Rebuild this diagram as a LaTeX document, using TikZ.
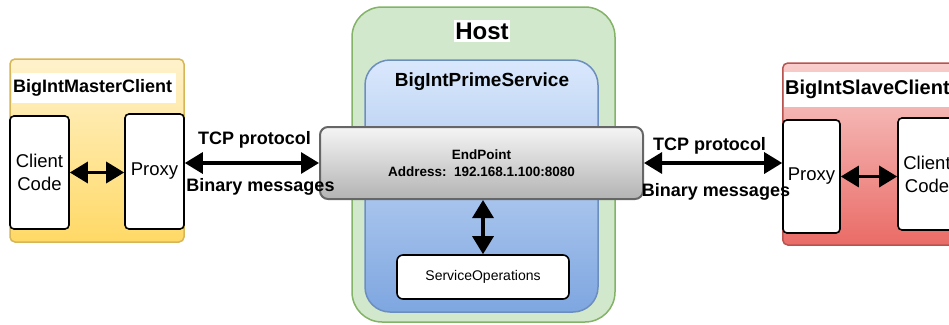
\documentclass[tikz,border=0pt]{standalone}
\usepackage{fontspec}
\setmainfont{Liberation Sans}
\usetikzlibrary{arrows.meta}
\definecolor{yellowtop}{HTML}{FFF2CC}
\definecolor{yellowbot}{HTML}{FFD966}
\definecolor{yellowline}{HTML}{D6B656}
\definecolor{greenfill}{HTML}{D2E8CC}
\definecolor{greenline}{HTML}{82B366}
\definecolor{bluetop}{HTML}{DAE8FC}
\definecolor{bluebot}{HTML}{7EA6E0}
\definecolor{blueline}{HTML}{6C8EBF}
\definecolor{redtop}{HTML}{F8CECC}
\definecolor{redbot}{HTML}{EA6B66}
\definecolor{redline}{HTML}{B85450}
\definecolor{graytop}{HTML}{F5F5F5}
\definecolor{graybot}{HTML}{B3B3B3}
\definecolor{grayline}{HTML}{666666}
\tikzset{container/.style={rounded corners=5pt,line width=1.5pt,inner sep=0pt}}
\tikzset{whitebox/.style={draw=black,fill=white,rounded corners=4pt,line width=1.6pt,inner sep=0pt,align=center,font=\fontsize{18.5}{23}\selectfont}}
\tikzset{titleband/.style={fill=white,anchor=west,inner xsep=1pt,inner ysep=0pt,minimum height=30pt,align=left,font=\fontsize{18}{22}\selectfont\bfseries}}
\tikzset{conn/.style={line width=3.2pt,{Triangle[length=18pt,width=21pt]}-{Triangle[length=18pt,width=21pt]}}}
\tikzset{msglabel/.style={font=\fontsize{18}{22}\selectfont\bfseries,inner sep=0pt,anchor=base}}

\begin{document}
\begin{tikzpicture}[x=1pt,y=-1pt]
    \useasboundingbox (0,0) rectangle (949,324);
    \clip (0,0) rectangle (949,324);

    % master client
    \node[container,draw=yellowline,top color=yellowtop,bottom color=yellowbot,minimum width=174pt,minimum height=183pt] (master) at (97,150.5) {};
    \node[titleband,text width=162pt] (masterT) at (12,88) {BigIntMasterClient};
    \node[whitebox,minimum width=59pt,minimum height=113pt] (codeL) at (39.5,172.5) {Client\\Code};
    \node[whitebox,minimum width=59pt,minimum height=115pt] (proxyL) at (154.5,171.5) {Proxy};

    % host and service
    \node[container,rounded corners=30pt,draw=greenline,fill=greenfill,minimum width=263pt,minimum height=315pt] (host) at (483.5,164.5) {};
    \node[fill=white,inner xsep=1pt,inner ysep=3pt,font=\fontsize{24}{28}\selectfont\bfseries] (hostT) at (482,31) {Host};
    \node[container,rounded corners=25pt,draw=blueline,top color=bluetop,bottom color=bluebot,minimum width=233pt,minimum height=252pt] (service) at (481.5,186) {};
    \node[anchor=base,inner sep=0pt,font=\fontsize{19}{22}\selectfont\bfseries] (serviceT) at (482,86) {BigIntPrimeService};
    \node[rounded corners=8pt,draw=grayline,line width=2pt,top color=graytop,bottom color=graybot,minimum width=323pt,minimum height=72pt,align=center,font=\fontsize{13.5}{17}\selectfont\bfseries] (endpoint) at (481.5,163) {EndPoint\\Address:\ \ 192.168.1.100:8080};
    \node[whitebox,rounded corners=6pt,minimum width=172pt,minimum height=44pt,font=\fontsize{14}{17}\selectfont] (ops) at (483,277) {ServiceOperations};

    % slave client
    \node[container,anchor=west,draw=redline,top color=redtop,bottom color=redbot,minimum width=240pt,minimum height=182pt] (slave) at (782,154) {};
    \node[titleband,text width=200pt,minimum height=35pt,font=\fontsize{20}{24}\selectfont\bfseries] (slaveT) at (784,89.5) {BigIntSlaveClient};
    \node[whitebox,minimum width=57pt,minimum height=113pt] (proxyR) at (811.5,176.5) {Proxy};
    \node[whitebox,minimum width=58pt,minimum height=112pt] (codeR) at (927,174) {Client\\Code};

    % connections
    \draw[conn] (codeL.east) -- (codeL.east -| proxyL.west);
    \draw[conn] (proxyL.east |- endpoint.west) -- (endpoint.west);
    \draw[conn] (endpoint.east) -- (endpoint.east -| proxyR.west);
    \draw[conn] (proxyR.east) -- (proxyR.east -| codeR.west);
    \draw[conn] (ops.north |- endpoint.south) -- (ops.north);

    % labels
    \node[msglabel] (tcpL) at (254.5,144) {TCP protocol};
    \node[msglabel] (binL) at (260.5,191.5) {Binary messages};
    \node[msglabel] (tcpR) at (709.5,150) {TCP protocol};
    \node[msglabel] (binR) at (716,196) {Binary messages};
\end{tikzpicture}
\end{document}
